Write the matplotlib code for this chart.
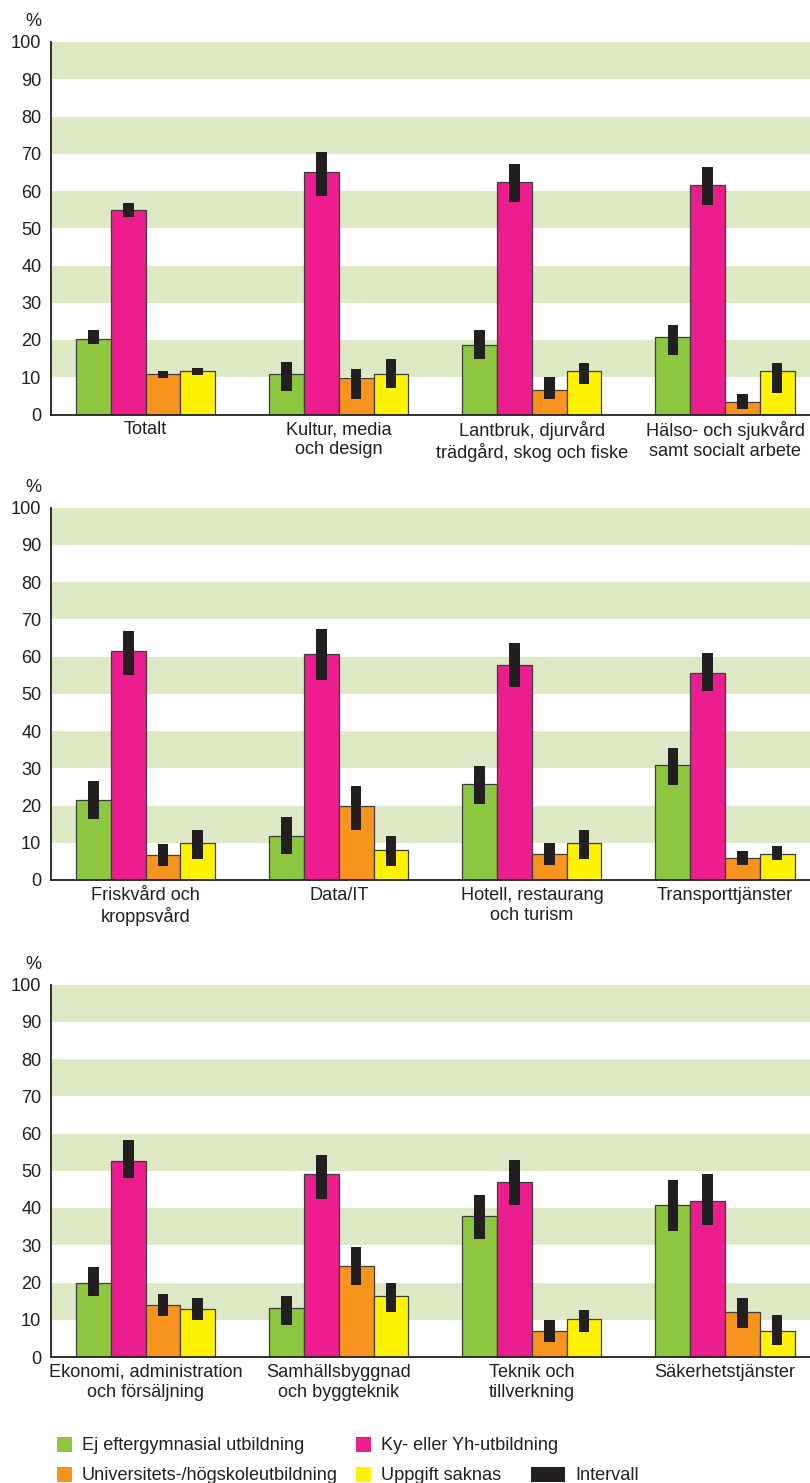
import numpy as np
import matplotlib
matplotlib.use('Agg')
import matplotlib.pyplot as plt
from matplotlib.patches import Rectangle

plt.rcParams['font.family'] = ['Liberation Sans', 'DejaVu Sans']

# kategorier, tre paneler
kategorier = [
    ['Totalt', 'Kultur, media\noch design', 'Lantbruk, djurvård\nträdgård, skog och fiske',
     'Hälso- och sjukvård\nsamt socialt arbete'],
    ['Friskvård och\nkroppsvård', 'Data/IT', 'Hotell, restaurang\noch turism', 'Transporttjänster'],
    ['Ekonomi, administration\noch försäljning', 'Samhällsbyggnad\noch byggteknik',
     'Teknik och\ntillverkning', 'Säkerhetstjänster'],
]

serier = ['Ej eftergymnasial utbildning', 'Ky- eller Yh-utbildning',
          'Universitets-/högskoleutbildning', 'Uppgift saknas']

# värden (%) per serie, 12 kategorier i ordning
ej = [20.4, 10.8, 18.7, 20.8, 21.6, 11.8, 25.8, 30.9, 20.0, 13.2, 37.9, 40.9]
ej_lo = [18.8, 6.2, 14.8, 16.1, 16.5, 6.9, 20.5, 25.4, 16.3, 8.6, 31.7, 33.8]
ej_hi = [22.6, 14.1, 22.7, 24.1, 26.7, 16.9, 30.6, 35.5, 24.2, 16.5, 43.6, 47.6]

ky = [55.0, 65.0, 62.5, 61.7, 61.6, 60.7, 57.8, 55.7, 52.7, 49.1, 47.1, 41.9]
ky_lo = [53.1, 58.7, 57.1, 56.3, 55.1, 53.6, 51.8, 50.7, 48.1, 42.4, 40.9, 35.4]
ky_hi = [56.9, 70.5, 67.2, 66.5, 66.9, 67.4, 63.6, 60.9, 58.3, 54.3, 52.8, 49.2]

uni = [10.8, 9.9, 6.6, 3.3, 6.6, 19.8, 6.9, 5.9, 13.9, 24.5, 7.1, 12.2]
uni_lo = [9.9, 4.2, 4.2, 1.6, 3.8, 13.4, 4.0, 3.9, 11.0, 19.3, 4.0, 7.9]
uni_hi = [11.7, 12.1, 10.0, 5.5, 9.7, 25.3, 9.8, 7.9, 16.9, 29.4, 9.8, 15.8]

sakn = [11.6, 11.0, 11.7, 11.7, 9.9, 8.0, 9.8, 6.9, 12.9, 16.4, 10.2, 7.1]
sakn_lo = [10.6, 7.2, 8.1, 5.9, 5.6, 3.8, 5.6, 5.3, 10.0, 12.1, 6.6, 3.3]
sakn_hi = [12.4, 14.9, 13.9, 13.8, 13.5, 11.7, 13.5, 9.1, 15.9, 20.0, 12.5, 11.2]

farger = ['#8dc63f', '#ec1e8f', '#f7941d', '#fff200']
band = '#dde9c4'
svart = '#231f20'

data = [(ej, ej_lo, ej_hi), (ky, ky_lo, ky_hi), (uni, uni_lo, uni_hi), (sakn, sakn_lo, sakn_hi)]

W, H = 810, 1483
fig = plt.figure(figsize=(W / 100, H / 100), dpi=100)

# paneler: (topp px, botten px)
paneler = [(42, 414.5), (507.5, 880), (984.5, 1357)]
vanster = 51
fs = 13.1
bw = 0.18
ew = 0.055

for p, (top, bot) in enumerate(paneler):
    ax = fig.add_axes([vanster / W, 1 - bot / H, (W - vanster) / W, (bot - top) / H])
    for lo in range(10, 100, 20):
        ax.axhspan(lo, lo + 10, color=band, lw=0, zorder=0)
    x = np.arange(4)
    for i, (v, vlo, vhi) in enumerate(data):
        vals = v[p * 4:(p + 1) * 4]
        los = np.array(vlo[p * 4:(p + 1) * 4])
        his = np.array(vhi[p * 4:(p + 1) * 4])
        xs = x + (i - 1.5) * bw
        ax.bar(xs, vals, width=bw, color=farger[i], edgecolor='#3c3c3c', linewidth=0.9, zorder=2)
        ax.bar(xs, his - los, bottom=los, width=ew, color=svart, linewidth=0, zorder=3)
    ax.set_xlim(-0.49, 3.44)
    ax.set_ylim(0, 100)
    ax.set_yticks(range(0, 101, 10))
    ax.set_xticks(x)
    ax.set_xticklabels(kategorier[p], fontsize=fs, color=svart, linespacing=1.2)
    ax.tick_params(axis='y', length=0, pad=7, labelsize=fs, labelcolor=svart)
    ax.tick_params(axis='x', length=0, pad=5)
    for s in ['top', 'right']:
        ax.spines[s].set_visible(False)
    for s in ['left', 'bottom']:
        ax.spines[s].set_color(svart)
        ax.spines[s].set_linewidth(1.3)
    ax.set_facecolor('white')
    fig.text(33 / W, 1 - (top - 20) / H, '%', fontsize=fs, color=svart, ha='center', va='center')

# teckenförklaring
leg = [
    (57, 1437, 15, serier[0], farger[0]),
    (356, 1437, 15, serier[1], farger[1]),
    (57, 1467, 15, serier[2], farger[2]),
    (356, 1467, 15, serier[3], farger[3]),
    (531, 1467, 34, 'Intervall', svart),
]
for x0, y0, w, txt, c in leg:
    fig.patches.append(Rectangle((x0 / W, 1 - (y0 + 15) / H), w / W, 15 / H,
                                 transform=fig.transFigure, facecolor=c, edgecolor='none'))
    fig.text((x0 + w + 10) / W, 1 - (y0 + 8) / H, txt, fontsize=fs, color=svart,
             ha='left', va='center')

fig.savefig('out.png', dpi=100)
